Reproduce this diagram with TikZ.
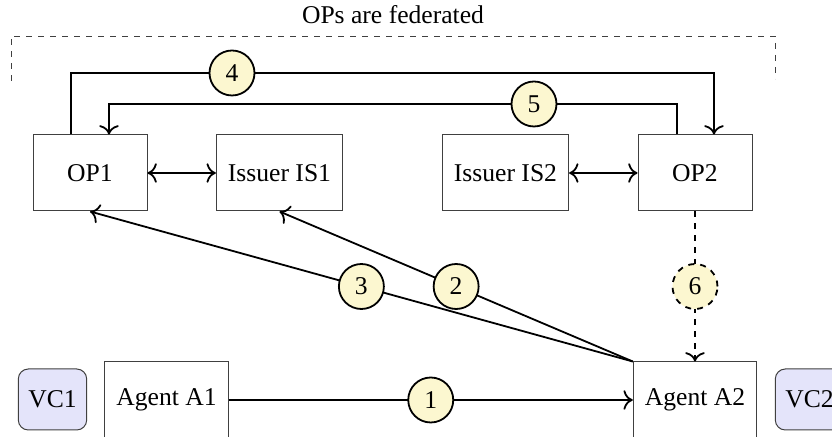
\documentclass[tikz,border=0pt]{standalone}
\usepackage{fontspec}
\setmainfont{Liberation Serif}
\usetikzlibrary{calc,arrows.meta}
\definecolor{numfill}{RGB}{252,247,208}
\definecolor{vcfill}{RGB}{228,228,250}
\begin{document}
\begin{tikzpicture}[x=0.5pt,y=-0.5pt,
  font=\fontsize{12.8}{15}\selectfont,
  >={To[scale=1.3]},
  box/.style={draw=black!75, line width=0.5pt, minimum width=57pt, minimum height=38pt, inner xsep=5.8pt, fill=white},
  vcbox/.style={draw=black!75, line width=0.5pt, fill=vcfill, rounded corners=5pt, minimum height=30.5pt, inner xsep=5pt},
  num/.style={circle, draw, line width=0.9pt, fill=numfill, minimum size=22.5pt, inner sep=0pt},
  conn/.style={line width=0.9pt},
  arr/.style={line width=0.9pt,->},
  fedline/.style={dashed, draw=black!75, line width=0.45pt}]
\useasboundingbox (0,0) rectangle (832,437);
\clip (0,0) rectangle (832,437);

% federation frame
\node (title) at (393,15) {OPs are federated};
\coordinate (fl) at (11,81);
\coordinate (ft) at (775,36);
\coordinate (fr) at (775,79);
\draw[fedline] (fl) |- (ft) -- (fr);

% boxes
\node[box] (op1) at (90,173) {OP1};
\node[box] (is1) at (279.5,173) {Issuer IS1};
\node[box] (is2) at (505.5,173) {Issuer IS2};
\node[box] (op2) at (695,173) {OP2};
\node[box] (a1) at (166.5,400) {Agent A1};
\node[box] (a2) at (695,400) {Agent A2};
\node[vcbox] (vc1) at (52.5,399.5) {VC1};
\node[vcbox] (vc2) at (809.5,399.5) {VC2};

% issuer links
\draw[line width=0.9pt,<->] (op1) -- (is1);
\draw[line width=0.9pt,<->] (is2) -- (op2);

% 4 and 5
\node[num] (c4) at (232,73) {4};
\node[num] (c5) at (534,104) {5};
\draw[conn] ($(op1.north)+(-19,0)$) |- (c4);
\draw[arr] (c4) -| ($(op2.north)+(19,0)$);
\draw[conn] ($(op2.north)+(-18,0)$) |- (c5);
\draw[arr] (c5) -| ($(op1.north)+(19,0)$);

% 1
\draw[arr] (a1) -- node[num] (c1) {1} (a2);
% 2 and 3
\draw[arr] (a2.north west) -- node[num] (c3) {3} (op1.south);
\draw[arr] (a2.north west) -- node[num] (c2) {2} (is1.south);
% 6
\draw[arr,dashed] (op2) -- node[num,dashed] (c6) {6} (a2);
\end{tikzpicture}
\end{document}
